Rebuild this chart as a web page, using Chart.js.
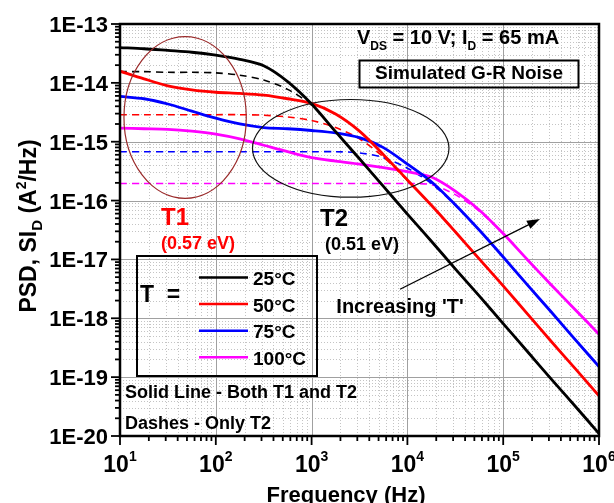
<!DOCTYPE html>
<html>
<head>
<meta charset="utf-8">
<script src="https://cdn.jsdelivr.net/npm/chart.js@4.4.0/dist/chart.umd.min.js"></script>
<style>
html,body{margin:0;padding:0;background:#fff}
canvas{display:block}
</style>
</head>
<body>
<canvas id="psd" width="614" height="503"></canvas>
<script>
// frequency points (Hz), quarter decades from 10 Hz to 1 MHz
const freqs = [10, 17.8, 31.6, 56.2, 100, 178, 316, 562, 1e3, 1.78e3, 3.16e3, 5.62e3, 1e4, 1.78e4, 3.16e4, 5.62e4, 1e5, 1.78e5, 3.16e5, 5.62e5, 1e6];

// solid lines - both traps T1 and T2 (A^2/Hz)
const both25 = [3.98e-14, 3.8e-14, 3.55e-14, 3.31e-14, 2.95e-14, 2.51e-14, 1.95e-14, 1.05e-14, 4.37e-15, 1.48e-15, 5.13e-16, 1.74e-16, 5.89e-17, 2.04e-17, 6.92e-18, 2.4e-18, 8.13e-19, 2.75e-19, 9.33e-20, 3.24e-20, 1.1e-20];
const both50 = [1.58e-14, 1.17e-14, 8.91e-15, 7.59e-15, 6.92e-15, 6.61e-15, 6.17e-15, 5.37e-15, 4.47e-15, 2.95e-15, 1.51e-15, 6.03e-16, 2.24e-16, 8.32e-17, 2.95e-17, 1.02e-17, 3.55e-18, 1.2e-18, 4.07e-19, 1.41e-19, 4.79e-20];
const both75 = [5.89e-15, 5.37e-15, 4.37e-15, 3.31e-15, 2.51e-15, 2.0e-15, 1.74e-15, 1.66e-15, 1.55e-15, 1.41e-15, 1.17e-15, 7.94e-16, 4.17e-16, 2.09e-16, 8.51e-17, 3.16e-17, 1.1e-17, 3.72e-18, 1.29e-18, 4.37e-19, 1.51e-19];
const both100 = [1.70e-15, 1.66e-15, 1.62e-15, 1.51e-15, 1.35e-15, 1.12e-15, 8.71e-16, 6.76e-16, 5.37e-16, 4.68e-16, 4.17e-16, 3.63e-16, 3.09e-16, 2.51e-16, 1.45e-16, 6.92e-17, 2.75e-17, 1.0e-17, 3.72e-18, 1.41e-18, 5.37e-19];

// dashed lines - only T2
const only25 = [1.55e-14, 1.55e-14, 1.51e-14, 1.51e-14, 1.48e-14, 1.35e-14, 1.12e-14, 7.76e-15, 4.17e-15, 1.48e-15, 5.13e-16, 1.74e-16, 5.89e-17, 2.04e-17, 6.92e-18, 2.4e-18, 8.13e-19, 2.75e-19, 9.33e-20, 3.24e-20, 1.1e-20];
const only50 = [2.88e-15, 2.88e-15, 2.88e-15, 2.88e-15, 2.88e-15, 2.88e-15, 2.82e-15, 2.63e-15, 2.29e-15, 1.74e-15, 1.12e-15, 5.5e-16, 2.19e-16, 8.32e-17, 2.95e-17, 1.02e-17, 3.55e-18, 1.2e-18, 4.07e-19, 1.41e-19, 4.79e-20];
const only75 = [6.76e-16, 6.76e-16, 6.76e-16, 6.76e-16, 6.76e-16, 6.76e-16, 6.76e-16, 6.76e-16, 6.76e-16, 6.76e-16, 6.46e-16, 5.37e-16, 3.55e-16, 1.95e-16, 8.32e-17, 3.16e-17, 1.1e-17, 3.72e-18, 1.29e-18, 4.37e-19, 1.51e-19];
const only100 = [1.95e-16, 1.95e-16, 1.95e-16, 1.95e-16, 1.95e-16, 1.95e-16, 1.95e-16, 1.95e-16, 1.95e-16, 1.95e-16, 1.95e-16, 1.95e-16, 1.95e-16, 1.86e-16, 1.26e-16, 6.61e-17, 2.75e-17, 1.0e-17, 3.72e-18, 1.41e-18, 5.37e-19];

const tempLabels = ['25\u00b0C', '50\u00b0C', '75\u00b0C', '100\u00b0C'];
const colors = ['#000000', '#ff0000', '#0000ff', '#ff00ff'];

const xDecades = [1, 2, 3, 4, 5, 6];
const yDecades = [-20, -19, -18, -17, -16, -15, -14, -13];

// annotation anchors in data units: [fmin, fmax, Smax, Smin]
const t1Ellipse = [11.0, 208, 6.08e-14, 1.09e-16];
const t2Ellipse = [241.5, 27160, 5.21e-15, 1.14e-16];
// arrow: [f0, S0, f1, S1]
const tArrow = [8375, 3.11e-18, 2.42e5, 4.86e-17];

const FONT = '"Liberation Sans", Arial, sans-serif';

function pts(arr){ return freqs.map((f,i)=>({x:f, y:arr[i]})); }

const solidSets = [both25, both50, both75, both100].map((a,i)=>({
  label: tempLabels[i], data: pts(a), borderColor: colors[i], borderWidth: 2.8,
  pointRadius: 0, tension: 0.3, fill: false
}));
const dashSets = [only25, only50, only75, only100].map((a,i)=>({
  label: tempLabels[i] + ' T2', data: pts(a), borderColor: colors[i], borderWidth: 1.6,
  borderDash: [7,5], pointRadius: 0, tension: 0.3, fill: false
}));

function rich(ctx, parts, x, y, align){
  let w = 0;
  parts.forEach(p=>{ ctx.font = `bold ${p[1]}px ${FONT}`; w += ctx.measureText(p[0]).width; });
  let cx = align==='center' ? x - w/2 : (align==='right' ? x - w : x);
  ctx.textAlign = 'left';
  parts.forEach(p=>{
    ctx.font = `bold ${p[1]}px ${FONT}`;
    ctx.fillText(p[0], cx, y + (p[2]||0));
    cx += ctx.measureText(p[0]).width;
  });
}

const gridPlugin = {
  id: 'grid',
  beforeDatasetsDraw(chart){
    const {ctx, chartArea:a, scales:{x, y}} = chart;
    ctx.save();
    ctx.lineWidth = 1;
    ctx.strokeStyle = '#c4c4c4';
    ctx.setLineDash([1,2]);
    xDecades.slice(0,-1).forEach(d=>{
      for(let m=2;m<=9;m++){
        const px = Math.round(x.getPixelForValue(m*10**d)) + 0.5;
        ctx.beginPath(); ctx.moveTo(px, a.top); ctx.lineTo(px, a.bottom); ctx.stroke();
      }
    });
    yDecades.slice(0,-1).forEach(d=>{
      for(let m=2;m<=9;m++){
        const py = Math.round(y.getPixelForValue(m*10**d)) + 0.5;
        ctx.beginPath(); ctx.moveTo(a.left, py); ctx.lineTo(a.right, py); ctx.stroke();
      }
    });
    ctx.setLineDash([]);
    ctx.strokeStyle = '#a0a0a0';
    xDecades.forEach(d=>{
      const px = Math.round(x.getPixelForValue(10**d)) + 0.5;
      ctx.beginPath(); ctx.moveTo(px, a.top); ctx.lineTo(px, a.bottom); ctx.stroke();
    });
    yDecades.forEach(d=>{
      const py = Math.round(y.getPixelForValue(10**d)) + 0.5;
      ctx.beginPath(); ctx.moveTo(a.left, py); ctx.lineTo(a.right, py); ctx.stroke();
    });
    ctx.restore();
  },
  afterDraw(chart){
    const {ctx, chartArea:a, scales:{x, y}} = chart;
    ctx.save();
    ctx.fillStyle = '#000'; ctx.strokeStyle = '#000';

    // ellipses
    const ell = (e, col)=>{
      const x0 = x.getPixelForValue(e[0]), x1 = x.getPixelForValue(e[1]);
      const y0 = y.getPixelForValue(e[2]), y1 = y.getPixelForValue(e[3]);
      ctx.beginPath();
      ctx.ellipse((x0+x1)/2, (y0+y1)/2, (x1-x0)/2, (y1-y0)/2, 0, 0, Math.PI*2);
      ctx.strokeStyle = col; ctx.lineWidth = 1.2; ctx.stroke();
    };
    ell(t1Ellipse, '#9a2a2a');
    ell(t2Ellipse, '#111');

    // arrow
    const ax0 = x.getPixelForValue(tArrow[0]), ay0 = y.getPixelForValue(tArrow[1]);
    const ax1 = x.getPixelForValue(tArrow[2]), ay1 = y.getPixelForValue(tArrow[3]);
    const ang = Math.atan2(ay1-ay0, ax1-ax0);
    ctx.strokeStyle = '#000'; ctx.lineWidth = 1.3;
    ctx.beginPath(); ctx.moveTo(ax0, ay0); ctx.lineTo(ax1 - 8*Math.cos(ang), ay1 - 8*Math.sin(ang)); ctx.stroke();
    ctx.beginPath();
    ctx.moveTo(ax1, ay1);
    ctx.lineTo(ax1 - 13*Math.cos(ang) + 4.5*Math.sin(ang), ay1 - 13*Math.sin(ang) - 4.5*Math.cos(ang));
    ctx.lineTo(ax1 - 13*Math.cos(ang) - 4.5*Math.sin(ang), ay1 - 13*Math.sin(ang) + 4.5*Math.cos(ang));
    ctx.closePath(); ctx.fill();

    // frame
    ctx.lineWidth = 2.5;
    ctx.strokeRect(a.left, a.top, a.right-a.left, a.bottom-a.top);

    // ticks
    ctx.lineWidth = 1.8;
    xDecades.forEach((d,i)=>{
      const px = x.getPixelForValue(10**d);
      ctx.beginPath(); ctx.moveTo(px, a.bottom); ctx.lineTo(px, a.bottom+9); ctx.stroke();
      if(i < xDecades.length-1) for(let m=2;m<=9;m++){
        const q = x.getPixelForValue(m*10**d);
        ctx.beginPath(); ctx.moveTo(q, a.bottom); ctx.lineTo(q, a.bottom+5); ctx.stroke();
      }
    });
    yDecades.forEach((d,i)=>{
      const py = y.getPixelForValue(10**d);
      ctx.beginPath(); ctx.moveTo(a.left, py); ctx.lineTo(a.left-9, py); ctx.stroke();
      if(i < yDecades.length-1) for(let m=2;m<=9;m++){
        const q = y.getPixelForValue(m*10**d);
        ctx.beginPath(); ctx.moveTo(a.left, q); ctx.lineTo(a.left-5, q); ctx.stroke();
      }
    });

    // tick labels
    ctx.textBaseline = 'alphabetic';
    yDecades.forEach(d=>{
      const py = y.getPixelForValue(10**d);
      rich(ctx, [['1E' + d, 22]], a.left-12, py+8, 'right');
    });
    xDecades.forEach(d=>{
      const px = x.getPixelForValue(10**d);
      rich(ctx, [['10', 23], [String(d), 14, -11]], px, a.bottom+36, 'center');
    });

    // axis titles
    rich(ctx, [['Frequency (Hz)', 22]], 346, 502, 'center');
    ctx.save();
    ctx.translate(36, 226);
    ctx.rotate(-Math.PI/2);
    rich(ctx, [['PSD, SI', 23], ['D', 15, 6], [' (A', 23], ['2', 14, -10], ['/Hz)', 23]], 0, 0, 'center');
    ctx.restore();

    // header texts
    rich(ctx, [['V', 20], ['DS', 12, 6], [' = 10 V; I', 20], ['D', 12, 6], [' = 65 mA', 20]], 357, 44, 'left');
    ctx.lineWidth = 2;
    ctx.strokeRect(359.5, 60.5, 219, 27);
    rich(ctx, [['Simulated G-R Noise', 19]], 469, 79, 'center');

    // trap labels
    ctx.fillStyle = '#ff0000';
    rich(ctx, [['T1', 24]], 175, 225, 'center');
    rich(ctx, [['(0.57 eV)', 18]], 198, 249, 'center');
    ctx.fillStyle = '#000';
    rich(ctx, [['T2', 24]], 334, 226, 'center');
    rich(ctx, [['(0.51 eV)', 18]], 362, 250, 'center');
    rich(ctx, [['Increasing \'T\'', 20]], 400, 313, 'center');

    // legend
    ctx.lineWidth = 2;
    ctx.strokeRect(137, 256, 180, 120);
    rich(ctx, [['T', 23], ['  =', 23]], 140, 302, 'left');
    tempLabels.forEach((t,i)=>{
      const ly = 277.5 + i*26.6;
      ctx.strokeStyle = colors[i]; ctx.lineWidth = 2.5;
      ctx.beginPath(); ctx.moveTo(199, ly); ctx.lineTo(248, ly); ctx.stroke();
      ctx.fillStyle = '#000';
      rich(ctx, [[t, 19]], 253, ly + 7.5, 'left');
    });

    rich(ctx, [['Solid Line - Both T1 and T2', 18]], 125, 398, 'left');
    rich(ctx, [['Dashes - Only T2', 18]], 125, 429, 'left');
    ctx.restore();
  }
};

new Chart(document.getElementById('psd'), {
  type: 'line',
  data: { datasets: [...solidSets, ...dashSets] },
  options: {
    responsive: false,
    animation: false,
    layout: { padding: { left: 120, top: 24, right: 15, bottom: 67 } },
    plugins: { legend: { display: false }, tooltip: { enabled: false } },
    scales: {
      x: { type: 'logarithmic', min: 10, max: 1e6, display: false },
      y: { type: 'logarithmic', min: 1e-20, max: 1e-13, display: false }
    }
  },
  plugins: [gridPlugin]
});
</script>
</body>
</html>
